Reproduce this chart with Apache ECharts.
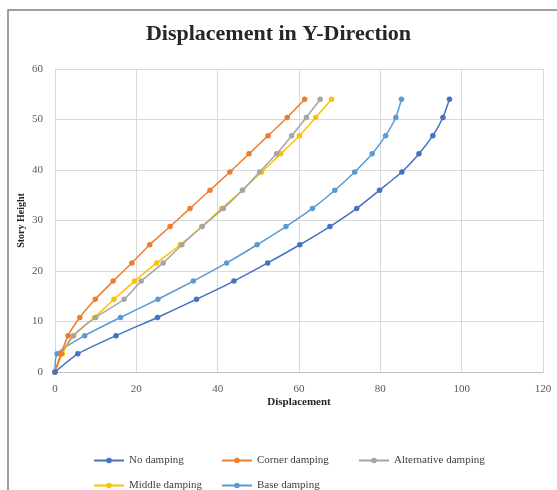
<!DOCTYPE html>
<html>
<head>
<meta charset="utf-8">
<script src="https://cdn.jsdelivr.net/npm/echarts@6/dist/echarts.min.js"></script>
<style>html,body{margin:0;padding:0;background:#fff;}#c{width:557px;height:490px;}</style>
</head>
<body>
<div id="c"></div>
<script>
const heights = [0,3.6,7.2,10.8,14.4,18,21.6,25.2,28.8,32.4,36,39.6,43.2,46.8,50.4,54];
const seriesNames = ['No damping','Corner damping','Alternative damping','Middle damping','Base damping'];
const noDamping   = [0,5.6,15.0,25.2,34.8,44.0,52.3,60.2,67.6,74.2,79.8,85.3,89.5,92.9,95.4,97.0];
const corner      = [0,1.5,3.2,6.1,9.9,14.3,18.9,23.3,28.3,33.2,38.1,43.0,47.7,52.4,57.1,61.4];
const alternative = [0,1.5,4.5,10.0,17.0,21.2,26.6,31.2,36.2,41.4,46.1,50.3,54.5,58.2,61.8,65.2];
const middle      = [0,1.8,4.6,9.7,14.5,19.6,25.0,30.8,36.1,41.0,46.1,50.8,55.5,60.1,64.1,68.0];
const base        = [0,0.5,7.3,16.1,25.3,34.0,42.2,49.7,56.8,63.3,68.8,73.7,78.0,81.3,83.8,85.2];
const colors = ['#4472c4','#ed7d31','#a5a5a5','#ffc000','#5b9bd5'];
const allData = [noDamping, corner, alternative, middle, base];

const font = 'Liberation Serif';
const chart = echarts.init(document.getElementById('c'));
const series = allData.map((arr, i) => ({
  name: seriesNames[i],
  type: 'line',
  data: arr.map((x, k) => [x, heights[k]]),
  symbol: 'circle',
  symbolSize: 5.5,
  smooth: 0.2,
  lineStyle: {width: 1.5, color: colors[i]},
  itemStyle: {color: colors[i]},
  z: 10 - i
}));
const legendPos = [[88,450],[216,450],[353,450],[88,475],[216,475]];
const legends = seriesNames.map((n, i) => ({
  show: true,
  orient: 'horizontal',
  data: [n], left: legendPos[i][0], top: legendPos[i][1],
  itemWidth: 30, itemHeight: 7,
  textStyle: {fontFamily: font, fontSize: 11, color: '#404040'},
  selectedMode: false
}));
chart.setOption({
  animation: false,
  backgroundColor: '#fff',
  color: colors,
  title: {
    text: 'Displacement in Y-Direction', left: 'center', top: 18,
    textStyle: {fontFamily: font, fontSize: 22, fontWeight: 'bold', color: '#262626'}
  },
  graphic: [{type: 'rect', shape: {x: 8, y: 10, width: 700, height: 700},
    style: {fill: 'none', stroke: '#808080', lineWidth: 1.5}, silent: true}],
  legend: legends,
  grid: {left: 55, right: 14, top: 69, bottom: 118},
  xAxis: {
    type: 'value', min: 0, max: 120, interval: 20,
    name: 'Displacement', nameLocation: 'middle', nameGap: 25, nameMoveOverlap: false,
    nameTextStyle: {fontFamily: font, fontSize: 11, fontWeight: 'bold', color: '#262626'},
    axisLine: {show: true, lineStyle: {color: '#bfbfbf'}},
    axisTick: {show: false},
    axisLabel: {fontFamily: font, fontSize: 11, color: '#595959', margin: 12},
    splitLine: {show: true, lineStyle: {color: '#d9d9d9'}}
  },
  yAxis: {
    type: 'value', min: 0, max: 60, interval: 10,
    name: 'Story Height', nameLocation: 'middle', nameGap: 29, nameMoveOverlap: false,
    nameTextStyle: {fontFamily: font, fontSize: 10, fontWeight: 'bold', color: '#262626'},
    axisLine: {show: false}, axisTick: {show: false},
    axisLabel: {fontFamily: font, fontSize: 11, color: '#595959', margin: 12},
    splitLine: {show: true, lineStyle: {color: '#d9d9d9'}}
  },
  series: series
});
</script>
</body>
</html>
